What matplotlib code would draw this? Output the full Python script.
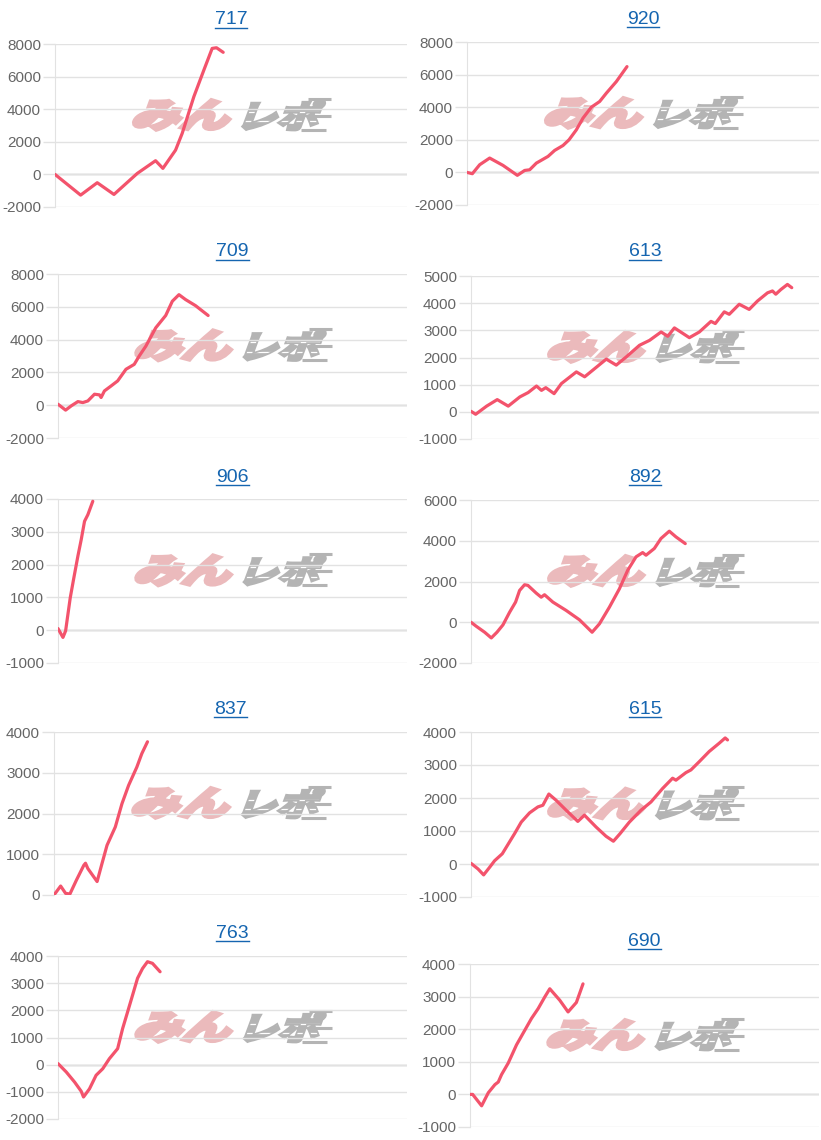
import matplotlib
matplotlib.use("Agg")
import matplotlib.pyplot as plt
from matplotlib.textpath import TextPath
from matplotlib.patches import PathPatch
from matplotlib.font_manager import FontProperties
from matplotlib.transforms import Affine2D
from matplotlib.lines import Line2D

plt.rcParams['font.family'] = ['Liberation Sans', 'DejaVu Sans']
plt.rcParams['axes.unicode_minus'] = False

# machine numbers shown above each chart
titles = ['717', '920', '709', '613', '906', '892', '837', '615', '763', '690']

# x: games played, y: coin difference
games_717 = [0, 728, 1200, 1675, 2337, 2857, 3065, 3425, 3614, 3945, 4229, 4465, 4588, 4778]
diff_717 = [0, -1270, -510, -1230, 60, 840, 370, 1490, 2520, 4770, 6400, 7730, 7770, 7490]

games_920 = [0, 152, 360, 644, 1023, 1430, 1638, 1780, 1970, 2301, 2491, 2727, 2898, 3106,
             3295, 3532, 3769, 3958, 4242, 4545]
diff_920 = [0, -80, 470, 880, 430, -180, 120, 160, 570, 980, 1350, 1650, 2000, 2610,
            3330, 4000, 4350, 4860, 5570, 6490]

games_709 = [0, 218, 380, 570, 712, 855, 1045, 1187, 1235, 1330, 1519, 1709, 1947, 2184,
             2327, 2517, 2801, 3086, 3276, 3466, 3656, 3941, 4302]
diff_709 = [60, -300, -40, 220, 160, 260, 670, 630, 470, 870, 1170, 1480, 2190, 2490,
            3000, 3600, 4720, 5470, 6340, 6740, 6440, 6070, 5470]

games_613 = [0, 134, 449, 754, 1070, 1404, 1643, 1882, 2025, 2149, 2388, 2598, 3028, 3266,
             3553, 3887, 4174, 4460, 4842, 5129, 5463, 5654, 5845, 6275, 6562, 6896, 7020,
             7278, 7421, 7708, 7994, 8233, 8520, 8663, 8758, 8902, 9093, 9217]
diff_613 = [20, -90, 210, 450, 210, 550, 710, 950, 790, 890, 670, 1040, 1470, 1290,
            1590, 1940, 1720, 2020, 2450, 2630, 2940, 2780, 3090, 2730, 2940, 3330, 3250,
            3680, 3590, 3960, 3770, 4080, 4380, 4450, 4330, 4500, 4690, 4570]

games_906 = [0, 142, 218, 285, 351, 446, 570, 665, 760, 855, 997]
diff_906 = [50, -220, -20, 490, 990, 1550, 2260, 2760, 3320, 3520, 3930]

games_892 = [0, 153, 392, 583, 746, 918, 1109, 1281, 1396, 1539, 1635, 1874, 2017, 2113,
             2352, 2734, 3117, 3480, 3690, 3977, 4264, 4503, 4742, 4933, 5029, 5268, 5459,
             5698, 5889, 6157]
diff_892 = [0, -200, -490, -770, -490, -130, 490, 990, 1560, 1840, 1810, 1430, 1230, 1350,
            990, 580, 120, -490, -80, 740, 1640, 2550, 3210, 3420, 3290, 3620, 4110,
            4470, 4190, 3860]

games_837 = [0, 188, 329, 451, 638, 845, 892, 958, 1221, 1362, 1502, 1737, 1925, 2113,
             2347, 2488, 2648]
diff_837 = [0, 220, 40, 25, 370, 730, 780, 650, 330, 780, 1220, 1670, 2240, 2690,
            3140, 3470, 3760]

games_615 = [0, 201, 363, 535, 679, 899, 1061, 1252, 1444, 1683, 1922, 2065, 2237, 2447,
             2734, 3069, 3260, 3595, 3881, 4092, 4283, 4551, 4885, 5172, 5507, 5793, 5889,
             6176, 6319, 6558, 6845, 7132, 7304, 7371]
diff_615 = [20, -150, -330, -100, 100, 310, 590, 920, 1270, 1550, 1730, 1780, 2120, 1930,
            1630, 1290, 1480, 1120, 840, 690, 920, 1270, 1630, 1880, 2290, 2600, 2540,
            2770, 2850, 3100, 3410, 3660, 3820, 3760]

games_763 = [0, 237, 475, 665, 731, 902, 1092, 1282, 1472, 1709, 1852, 1994, 2137, 2279,
             2422, 2564, 2707, 2925]
diff_763 = [40, -270, -640, -980, -1190, -890, -390, -150, 220, 590, 1330, 1940, 2560,
            3180, 3540, 3790, 3730, 3420]

games_690 = [0, 76, 333, 524, 714, 810, 905, 1095, 1333, 1571, 1762, 1952, 2143, 2286,
             2571, 2810, 3048, 3238]
diff_690 = [0, 0, -350, 50, 300, 380, 610, 960, 1520, 1970, 2330, 2630, 2990, 3240,
            2890, 2530, 2820, 3390]

games = [games_717, games_920, games_709, games_613, games_906,
         games_892, games_837, games_615, games_763, games_690]
diffs = [diff_717, diff_920, diff_709, diff_613, diff_906,
         diff_892, diff_837, diff_615, diff_763, diff_690]

# y tick ranges (min, max, step) for each chart
y_ranges = [(-2000, 8000, 2000), (-2000, 8000, 2000), (-2000, 8000, 2000), (-1000, 5000, 1000),
            (-1000, 4000, 1000), (-2000, 6000, 2000), (0, 4000, 1000), (-1000, 4000, 1000),
            (-2000, 4000, 1000), (-1000, 4000, 1000)]
max_games = 10000

# plot boxes in pixels: left, right, top, bottom, title y
W, H = 821, 1140
boxes = [(55, 407, 44, 207, 20), (467, 819, 42, 205, 19),
         (58, 407, 274, 438, 252), (471, 819, 276, 439, 252),
         (58, 407, 499, 663, 477), (471, 819, 500, 663, 477),
         (54, 407, 732, 895, 709), (471, 819, 732, 897, 709),
         (58, 407, 956, 1119, 933), (470, 819, 964, 1127, 941)]

line_color = '#f3536c'
link_color = '#1565b0'
grid_color = '#e2e2e2'
pink = '#ebbabc'
gray = '#b4b4b4'
mark_font = FontProperties(family='Noto Sans CJK JP', weight='bold')


def glyph_patch(ax, text, box, color, stroke):
    # slanted glyphs stretched into a box given in axes coords
    path = TextPath((0, 0), text, size=1, prop=mark_font)
    path = Affine2D().skew_deg(16, 0).transform_path(path)
    ext = path.get_extents()
    x0, y0, x1, y1 = box
    tr = (Affine2D().translate(-ext.x0, -ext.y0)
          .scale((x1 - x0) / ext.width, (y1 - y0) / ext.height)
          .translate(x0, y0))
    patch = PathPatch(path, transform=tr + ax.transAxes, facecolor=color,
                      edgecolor=color, lw=stroke, joinstyle='miter', zorder=1.5)
    ax.add_patch(patch)
    return patch


def add_logo(ax):
    glyph_patch(ax, 'みん', (0.225, 0.475, 0.495, 0.655), pink, 3.2)
    kana = glyph_patch(ax, 'レポ', (0.535, 0.475, 0.765, 0.655), gray, 2.6)
    # speed stripes cut through the katakana
    for yy in (0.525, 0.585):
        stripe = Line2D([0.5, 0.8], [yy, yy], transform=ax.transAxes,
                        color='white', lw=0.9, zorder=1.6)
        stripe.set_clip_path(kana)
        ax.add_line(stripe)
    for yy, xa, xb in ((0.665, 0.72, 0.785), (0.56, 0.73, 0.785), (0.475, 0.7, 0.77)):
        ax.plot([xa, xb], [yy, yy], transform=ax.transAxes, color=gray,
                lw=2.2, zorder=1.5, solid_capstyle='butt')


fig = plt.figure(figsize=(W / 100, H / 100), dpi=100)
title_texts = []

for i in range(10):
    l, r, t, b, ty = boxes[i]
    ax = fig.add_axes([l / W, 1 - b / H, (r - l) / W, (b - t) / H])
    lo, hi, step = y_ranges[i]
    ax.set_xlim(0, max_games)
    ax.set_ylim(lo, hi)
    ax.set_yticks(range(lo, hi + 1, step))
    ax.set_xticks([])
    ax.grid(axis='y', color=grid_color, lw=1, zorder=0)
    ax.axhline(0, color='#b4b4b4', lw=1, zorder=0.5)
    for side in ('top', 'right', 'bottom'):
        ax.spines[side].set_visible(False)
    ax.spines['left'].set_color(grid_color)
    ax.tick_params(axis='y', length=9, width=1, color=grid_color, pad=1,
                   labelsize=11, labelcolor='#666666')

    add_logo(ax)
    ax.plot(games[i], diffs[i], color=line_color, lw=2.3, zorder=3,
            solid_joinstyle='round', solid_capstyle='round')

    cx = (l + r) / 2 / W
    txt = fig.text(cx, 1 - ty / H, titles[i], ha='center', va='center',
                   fontsize=14, color=link_color)
    title_texts.append(txt)

# underline the titles like links
fig.canvas.draw()
renderer = fig.canvas.get_renderer()
for txt in title_texts:
    bb = txt.get_window_extent(renderer).transformed(fig.transFigure.inverted())
    yline = bb.y0 + 0.3 / H
    fig.add_artist(Line2D([bb.x0, bb.x1], [yline, yline], transform=fig.transFigure,
                          color=link_color, lw=1.0))

fig.savefig('out.png', dpi=100)
